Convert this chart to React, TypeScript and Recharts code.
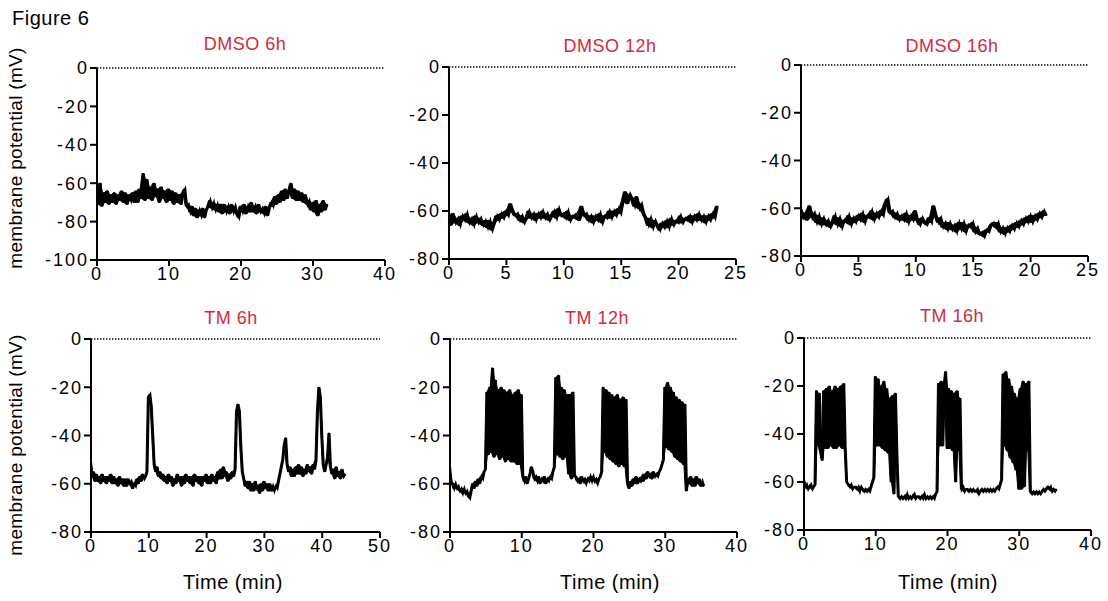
import React from 'react';
import { ComposedChart, Line, Area, XAxis, YAxis, ReferenceLine } from 'recharts';

// membrane potential traces (mV), sampled every STEP minutes
const DMSO_6H_STEP = 0.25;
const DMSO_6H = [
  -66, -71, -60, -72, -65, -70, -64, -71, -66, -70, -65, -71, -66, -69, -64, -70, -65, -71, -66, -69, -65, -70, -64, -70,
  -63, -68, -55, -69, -58, -68, -62, -69, -60, -67, -63, -70, -62, -68, -64, -70, -63, -69, -64, -71, -65, -70, -66, -71,
  -65, -63, -72, -71, -75, -72, -77, -73, -78, -74, -77, -73, -78, -74, -72, -69, -73, -70, -74, -71, -75, -71, -76, -71,
  -75, -72, -76, -71, -75, -72, -76, -78, -72, -75, -71, -76, -72, -75, -70, -75, -72, -76, -71, -75, -73, -76, -72, -77,
  -73, -70, -72, -67, -71, -66, -70, -64, -69, -63, -68, -64, -60, -68, -63, -69, -64, -69, -65, -70, -66, -71, -69, -74,
  -70, -75, -69, -77, -71, -75, -69, -74, -71,
];

const DMSO_12H_STEP = 0.2;
const DMSO_12H = [
  -62, -66, -61, -65, -63, -66, -62, -64, -61, -65, -63, -66, -62, -65, -63, -66, -64, -67, -64, -68,
  -65, -62, -64, -61, -63, -60, -62, -57, -60, -62, -61, -64, -62, -65, -63, -60, -63, -61, -64, -61,
  -63, -60, -63, -61, -64, -62, -60, -63, -59, -62, -61, -63, -60, -64, -62, -63, -61, -64, -58, -62,
  -61, -64, -62, -65, -62, -64, -61, -65, -62, -63, -60, -63, -60, -62, -59, -61, -56, -52, -57, -53,
  -55, -58, -54, -59, -57, -61, -63, -66, -63, -67, -64, -66, -68, -65, -67, -64, -67, -63, -66, -64,
  -65, -62, -65, -63, -64, -62, -65, -62, -64, -61, -64, -62, -65, -62, -64, -61, -63, -58,
];

const DMSO_16H_STEP = 0.2;
const DMSO_16H = [
  -60, -64, -62, -65, -59, -64, -62, -66, -63, -67, -64, -67, -65, -68, -66, -63, -67, -64, -68, -65,
  -66, -63, -67, -64, -66, -63, -65, -62, -66, -63, -64, -61, -65, -62, -64, -61, -63, -58, -56, -62,
  -61, -64, -62, -65, -63, -65, -62, -66, -63, -65, -61, -65, -67, -64, -66, -67, -64, -66, -59, -63,
  -66, -64, -68, -66, -69, -66, -69, -67, -70, -66, -69, -66, -70, -67, -68, -66, -70, -68, -71, -70,
  -72, -69, -70, -67, -66, -68, -66, -70, -68, -71, -68, -70, -67, -69, -66, -68, -65, -67, -64, -66,
  -63, -66, -63, -65, -62, -64, -61, -63,
];

const TM_6H_STEP = 0.25;
const TM_6H = [
  -51, -57, -55, -59, -56, -59, -57, -60, -56, -59, -57, -60, -57, -59, -56, -60, -57, -60, -58, -61,
  -57, -60, -58, -61, -58, -61, -58, -60, -59, -62, -60, -61, -58, -60, -57, -59, -56, -58, -57, -55,
  -24, -23, -28, -40, -52, -55, -53, -57, -55, -58, -56, -59, -57, -60, -56, -59, -57, -61, -58, -60,
  -56, -59, -57, -61, -57, -60, -56, -59, -57, -60, -57, -61, -56, -59, -57, -60, -57, -61, -57, -59,
  -56, -60, -57, -60, -56, -59, -57, -60, -55, -58, -54, -58, -53, -57, -55, -59, -56, -58, -55, -57,
  -54, -30, -27, -30, -45, -55, -58, -61, -59, -62, -59, -63, -60, -63, -59, -62, -61, -64, -60, -63,
  -59, -62, -60, -63, -60, -63, -61, -63, -61, -62, -59, -56, -53, -50, -44, -41, -52, -55, -53, -57,
  -54, -57, -53, -56, -52, -56, -53, -57, -54, -56, -52, -55, -53, -56, -52, -54, -50, -30, -20, -24,
  -40, -52, -55, -52, -49, -39, -53, -56, -54, -58, -53, -57, -55, -58, -54, -57, -56,
];

const TM_12H_STEP = 0.2;
const TM_12H = [
  -53, -59, -60, -62, -60, -62, -61, -63, -62, -64, -62, -64, -63, -65, -66, -63, -60, -62, -59, -61,
  -58, -60, -57, -58, -55, -54, -22, -48, -20, -47, -12, -49, -17, -48, -21, -50, -20, -49, -21, -51,
  -22, -50, -21, -51, -23, -51, -22, -52, -21, -52, -23, -57, -59, -57, -60, -58, -56, -53, -55, -58,
  -57, -59, -57, -60, -58, -59, -57, -60, -58, -59, -57, -58, -55, -53, -16, -48, -15, -49, -20, -50,
  -21, -49, -23, -56, -23, -58, -22, -57, -57, -59, -58, -60, -57, -59, -58, -60, -58, -59, -57, -59,
  -57, -59, -58, -60, -58, -57, -55, -20, -47, -21, -49, -22, -50, -23, -51, -24, -52, -23, -53, -25,
  -52, -24, -53, -25, -60, -62, -59, -61, -58, -60, -57, -60, -58, -59, -57, -59, -56, -58, -55, -57,
  -56, -58, -55, -57, -56, -57, -55, -54, -52, -50, -20, -45, -18, -46, -20, -47, -22, -49, -24, -50,
  -25, -51, -26, -52, -27, -63, -58, -60, -57, -61, -58, -61, -57, -60, -58, -61, -59, -61,
];

const TM_16H_STEP = 0.2;
const TM_16H = [
  -59, -62, -61, -63, -62, -61, -63, -62, -61, -22, -45, -23, -48, -51, -22, -46, -21, -46, -20, -45,
  -22, -46, -20, -46, -21, -45, -20, -46, -19, -46, -60, -61, -62, -61, -63, -62, -62, -63, -62, -64,
  -62, -63, -64, -63, -64, -63, -64, -62, -60, -58, -16, -45, -17, -45, -20, -46, -18, -47, -21, -48,
  -25, -60, -24, -65, -23, -48, -66, -67, -66, -67, -66, -67, -65, -67, -66, -67, -66, -65, -67, -66,
  -66, -67, -66, -67, -65, -67, -66, -67, -66, -67, -66, -67, -65, -64, -19, -45, -18, -45, -20, -14,
  -46, -21, -46, -22, -47, -23, -60, -22, -47, -25, -63, -62, -64, -63, -63, -64, -63, -64, -63, -64,
  -64, -63, -65, -64, -63, -64, -63, -64, -63, -64, -63, -64, -63, -64, -63, -62, -63, -61, -59, -15,
  -45, -14, -47, -17, -50, -20, -52, -23, -55, -25, -63, -21, -63, -18, -62, -19, -47, -18, -64, -65,
  -64, -65, -64, -65, -64, -65, -64, -63, -64, -63, -62, -63, -62, -64, -63, -64, -63,
];

const TICKS_Y_100 = [0, -20, -40, -60, -80, -100];
const TICKS_Y_80 = [0, -20, -40, -60, -80];
const TICKS_X_40 = [0, 10, 20, 30, 40];
const TICKS_X_25 = [0, 5, 10, 15, 20, 25];
const TICKS_X_50 = [0, 10, 20, 30, 40, 50];

const TITLE_RED = '#d42a3c';
const FONT = '"Liberation Sans", Arial, Helvetica, sans-serif';

// each row keeps the sample plus the min/max of it and the next sample,
// so the dense recording is drawn as a filled band like the original trace
function toRows(values: number[], step: number) {
  return values.map((v, i) => {
    const next = i < values.length - 1 ? values[i + 1] : v;
    return { t: Math.round(i * step * 100) / 100, v, band: [Math.min(v, next), Math.max(v, next)] };
  });
}

interface PanelProps {
  title: string;
  values: number[];
  step: number;
  yTicks: number[];
  xTicks: number[];
  // plot rectangle on the page
  left: number;
  top: number;
  right: number;
  bottom: number;
  titleX: number;
  titleY: number;
  xLabelX?: number;
}

const Y_AXIS_W = 70;
const M_TOP = 12;
const M_RIGHT = 24;
const X_AXIS_H = 34;

const tickStyle = { fill: '#000', fontSize: 18, fontFamily: FONT, letterSpacing: 2 };

function Panel(p: PanelProps) {
  const w = p.right - p.left + Y_AXIS_W + M_RIGHT;
  const h = p.bottom - p.top + M_TOP + X_AXIS_H;
  const yMin = p.yTicks[p.yTicks.length - 1];
  const xMax = p.xTicks[p.xTicks.length - 1];
  return (
    <>
      <div style={{ position: 'absolute', left: p.left - Y_AXIS_W, top: p.top - M_TOP }}>
        <ComposedChart width={w} height={h} data={toRows(p.values, p.step)} margin={{ top: M_TOP, right: M_RIGHT, left: 0, bottom: 0 }}>
          <XAxis
            type="number"
            dataKey="t"
            domain={[0, xMax]}
            ticks={p.xTicks}
            height={X_AXIS_H}
            axisLine={{ stroke: '#000', strokeWidth: 2 }}
            tickLine={{ stroke: '#000', strokeWidth: 2 }}
            tickSize={6}
            tickMargin={1}
            tick={tickStyle}
            interval={0}
          />
          <YAxis
            type="number"
            domain={[yMin, 0]}
            ticks={p.yTicks}
            width={Y_AXIS_W}
            axisLine={{ stroke: '#000', strokeWidth: 2 }}
            tickLine={{ stroke: '#000', strokeWidth: 2 }}
            tickSize={7}
            tickMargin={1}
            tick={tickStyle}
            interval={0}
          />
          <ReferenceLine y={0} stroke="#000" strokeWidth={1.4} strokeDasharray="1.4 1.6" />
          <Area type="linear" dataKey="band" fill="#000" fillOpacity={1} stroke="#000" strokeWidth={1} isAnimationActive={false} />
          <Line type="linear" dataKey="v" stroke="#000" strokeWidth={2.2} dot={false} isAnimationActive={false} />
        </ComposedChart>
      </div>
      <div
        style={{
          position: 'absolute',
          left: p.titleX,
          top: p.titleY,
          transform: 'translate(-50%, -50%)',
          color: TITLE_RED,
          fontFamily: FONT,
          fontSize: 18,
          letterSpacing: 0.5,
          whiteSpace: 'nowrap',
        }}
      >
        {p.title}
      </div>
      {p.xLabelX !== undefined && (
        <div
          style={{
            position: 'absolute',
            left: p.xLabelX,
            top: 582,
            transform: 'translate(-50%, -50%)',
            fontFamily: FONT,
            fontSize: 20,
            letterSpacing: 0.5,
            whiteSpace: 'nowrap',
          }}
        >
          Time (min)
        </div>
      )}
    </>
  );
}

function YLabel({ y }: { y: number }) {
  return (
    <div
      style={{
        position: 'absolute',
        left: 16,
        top: y,
        transform: 'translate(-50%, -50%) rotate(-90deg)',
        fontFamily: FONT,
        fontSize: 19,
        letterSpacing: 0.3,
        whiteSpace: 'nowrap',
      }}
    >
      membrane potential (mV)
    </div>
  );
}

export default function App() {
  return (
    <div style={{ position: 'absolute', left: 0, top: 0, width: 1108, height: 601, background: '#fff', overflow: 'hidden' }}>
      <div style={{ position: 'absolute', left: 12, top: 7, fontFamily: FONT, fontSize: 20, letterSpacing: 0.5 }}>Figure 6</div>
      <YLabel y={158} />
      <YLabel y={445} />

      <Panel title="DMSO 6h" values={DMSO_6H} step={DMSO_6H_STEP} yTicks={TICKS_Y_100} xTicks={TICKS_X_40}
        left={97} top={68} right={385} bottom={260} titleX={245} titleY={44} />
      <Panel title="DMSO 12h" values={DMSO_12H} step={DMSO_12H_STEP} yTicks={TICKS_Y_80} xTicks={TICKS_X_25}
        left={449} top={67} right={736} bottom={259} titleX={610} titleY={46} />
      <Panel title="DMSO 16h" values={DMSO_16H} step={DMSO_16H_STEP} yTicks={TICKS_Y_80} xTicks={TICKS_X_25}
        left={801} top={65} right={1088} bottom={256} titleX={952} titleY={46} />

      <Panel title="TM 6h" values={TM_6H} step={TM_6H_STEP} yTicks={TICKS_Y_80} xTicks={TICKS_X_50}
        left={91} top={339} right={380} bottom={532} titleX={231} titleY={318} xLabelX={233} />
      <Panel title="TM 12h" values={TM_12H} step={TM_12H_STEP} yTicks={TICKS_Y_80} xTicks={TICKS_X_40}
        left={450} top={339} right={737} bottom={532} titleX={597} titleY={318} xLabelX={610} />
      <Panel title="TM 16h" values={TM_16H} step={TM_16H_STEP} yTicks={TICKS_Y_80} xTicks={TICKS_X_40}
        left={804} top={338} right={1091} bottom={530} titleX={952} titleY={316} xLabelX={948} />
    </div>
  );
}
